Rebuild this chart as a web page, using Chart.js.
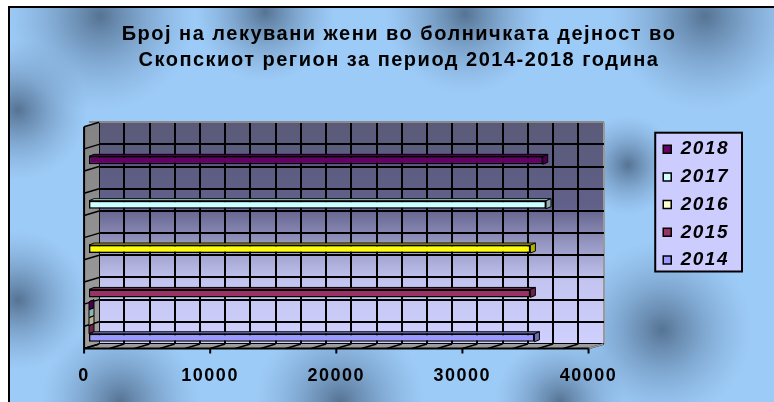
<!DOCTYPE html>
<html>
<head>
<meta charset="utf-8">
<script src="https://cdn.jsdelivr.net/npm/chart.js@4.4.1/dist/chart.umd.min.js"></script>
<style>
html,body{margin:0;padding:0;background:#fff;overflow:hidden}
#wrap{position:relative;width:774px;height:402px}
canvas{display:block}
</style>
</head>
<body>
<div id="wrap"><canvas id="c" width="774" height="402"></canvas></div>
<script>
// ---------- data ----------
const titleLines = ['Број на лекувани жени во болничката дејност во', 'Скопскиот регион за период 2014-2018 година'];
const categories = ['I', 'II', 'III', 'IV', 'V'];
const seriesNames = ['2018', '2017', '2016', '2015', '2014'];
const values2018 = [0, null, null, null, null];
const values2017 = [0, null, null, null, null];
const values2016 = [0, null, null, null, null];
const values2015 = [0, null, null, null, null];
const values2014 = [35320, 35000, 35000, 36240, 35980];
const xTickValues = [0, 10000, 20000, 30000, 40000];
const xGridValues = [0, 2000, 4000, 6000, 8000, 10000, 12000, 14000, 16000, 18000, 20000, 22000, 24000, 26000, 28000, 30000, 32000, 34000, 36000, 38000, 40000];
const yGridValues = [0, 1, 2, 3, 4, 5, 6, 7, 8, 9, 10];

// ---------- styles ----------
const FONT = "'Liberation Sans', Arial, sans-serif";
const seriesColors = ['#660066', '#CCFFFF', '#FFFFCC', '#993366', '#9999FF'];
const pointColors2014 = ['#9999FF', '#993366', '#FFFF00', '#CCFFFF', '#660066'];
const DEPTH_X = 15, DEPTH_Y = 4.5;
const BAR_DX = 5, BAR_DY = 2;
const bgSpots = [[100,16,95],[265,12,70],[465,14,80],[705,16,95],[18,110,70],[18,300,70],[120,402,80],[340,402,85],[560,402,65],[662,330,90],[628,165,50]];

function shade(hex, f) {
  const h = hex.replace('#','');
  const r = parseInt(h.substr(0,2),16), g = parseInt(h.substr(2,2),16), b = parseInt(h.substr(4,2),16);
  return 'rgb(' + Math.round(r*f) + ',' + Math.round(g*f) + ',' + Math.round(b*f) + ')';
}

const decor = {
  id: 'decor',
  afterInit(chart) { chart.ctx.letterSpacing = '1.5px'; },
  beforeDraw(chart) {
    const ctx = chart.ctx, W = chart.width, H = chart.height;
    ctx.save();
    ctx.fillStyle = '#ffffff'; ctx.fillRect(0, 0, W, H);
    ctx.beginPath(); ctx.rect(9, 7, W - 9, H - 7); ctx.clip();
    ctx.fillStyle = '#9dcbf7'; ctx.fillRect(9, 7, W - 9, H - 7);
    for (const [cx, cy, r] of bgSpots) {
      const g = ctx.createRadialGradient(cx, cy, 0, cx, cy, r);
      g.addColorStop(0, 'rgba(62,86,114,0.75)');
      g.addColorStop(0.5, 'rgba(80,110,145,0.35)');
      g.addColorStop(1, 'rgba(100,140,180,0)');
      ctx.fillStyle = g; ctx.fillRect(cx - r, cy - r, 2 * r, 2 * r);
    }
    ctx.restore();
    ctx.fillStyle = '#000';
    ctx.fillRect(8, 6, 2, H - 6);
    ctx.fillRect(8, 6, W - 8, 2);

    // back wall
    const a = chart.chartArea, xg = chart.scales.x2;
    const L = xg.getPixelForValue(0), R = xg.getPixelForValue(40000);
    const g2 = ctx.createLinearGradient(0, a.top, 0, a.bottom);
    g2.addColorStop(0, '#5a5a78');
    g2.addColorStop(0.38, '#60608a');
    g2.addColorStop(0.56, '#9a9ac6');
    g2.addColorStop(0.72, '#c4c4f0');
    g2.addColorStop(1, '#d0d0ff');
    ctx.fillStyle = g2;
    ctx.fillRect(L, a.top, R - L, a.bottom - a.top);

    // legend box
    const lg = chart.legend;
    if (lg && lg.legendHitBoxes && lg.legendHitBoxes.length) {
      let l = 1e9, t = 1e9, r = -1e9, b = -1e9;
      lg.legendHitBoxes.forEach(hb => {
        l = Math.min(l, hb.left); t = Math.min(t, hb.top);
        r = Math.max(r, hb.left + hb.width); b = Math.max(b, hb.top + hb.height);
      });
      ctx.fillStyle = '#ccccff';
      ctx.fillRect(l - 8, t - 7, (r - l) + 21, (b - t) + 9);
      ctx.strokeStyle = '#000'; ctx.lineWidth = 2;
      ctx.strokeRect(l - 8, t - 7, (r - l) + 21, (b - t) + 9);
    }
  },
  beforeDatasetsDraw(chart) {
    const ctx = chart.ctx, xg = chart.scales.x2, yg = chart.scales.y2;
    const L = xg.getPixelForValue(0), R = xg.getPixelForValue(40000);
    const T = yg.getPixelForValue(10), B = yg.getPixelForValue(0);
    ctx.save();
    // left wall
    ctx.beginPath();
    ctx.moveTo(L - DEPTH_X, T + DEPTH_Y); ctx.lineTo(L, T); ctx.lineTo(L, B); ctx.lineTo(L - DEPTH_X, B + DEPTH_Y); ctx.closePath();
    const gw = ctx.createLinearGradient(0, T, 0, B);
    gw.addColorStop(0, '#838383'); gw.addColorStop(1, '#a0a0a0');
    ctx.fillStyle = gw; ctx.fill();
    // floor
    ctx.beginPath();
    ctx.moveTo(L, B); ctx.lineTo(R, B); ctx.lineTo(R - DEPTH_X, B + DEPTH_Y); ctx.lineTo(L - DEPTH_X, B + DEPTH_Y); ctx.closePath();
    ctx.fillStyle = '#9c9c9c'; ctx.fill();
    // wall / floor lines
    ctx.strokeStyle = '#000'; ctx.lineWidth = 1.5;
    yGridValues.forEach(v => {
      const y = yg.getPixelForValue(v);
      ctx.beginPath(); ctx.moveTo(L - DEPTH_X, y + DEPTH_Y); ctx.lineTo(L, y); ctx.stroke();
    });
    xGridValues.forEach(v => {
      const x = xg.getPixelForValue(v);
      ctx.beginPath(); ctx.moveTo(x, B); ctx.lineTo(x - DEPTH_X, B + DEPTH_Y); ctx.stroke();
    });
    ctx.strokeStyle = '#9a9a9a';
    ctx.beginPath(); ctx.moveTo(R, B); ctx.lineTo(R - DEPTH_X, B + DEPTH_Y); ctx.stroke();
    ctx.strokeStyle = '#000'; ctx.lineWidth = 2;
    ctx.beginPath(); ctx.moveTo(L - DEPTH_X, T + DEPTH_Y); ctx.lineTo(L - DEPTH_X, B + DEPTH_Y);
    ctx.lineTo(R - DEPTH_X, B + DEPTH_Y); ctx.stroke();
    // tick marks
    xTickValues.forEach(v => {
      const x = xg.getPixelForValue(v) - DEPTH_X;
      ctx.beginPath(); ctx.moveTo(x, B + DEPTH_Y); ctx.lineTo(x, B + DEPTH_Y + 5); ctx.stroke();
    });
    ctx.restore();
  },
  afterDatasetsDraw(chart) {
    const ctx = chart.ctx;
    ctx.save();
    chart.data.datasets.forEach((ds, i) => {
      const meta = chart.getDatasetMeta(i);
      meta.data.forEach((el, j) => {
        if (ds.data[j] === null || ds.data[j] === undefined) return;
        const p = el.getProps(['x', 'y', 'base', 'height'], true);
        const top = p.y - p.height / 2, bot = p.y + p.height / 2;
        const col = el.options.backgroundColor;
        ctx.lineWidth = 1; ctx.strokeStyle = '#000';
        ctx.beginPath();
        ctx.moveTo(p.base, top); ctx.lineTo(p.base + BAR_DX, top - BAR_DY); ctx.lineTo(p.x + BAR_DX, top - BAR_DY); ctx.lineTo(p.x, top); ctx.closePath();
        ctx.fillStyle = shade(col, 0.85); ctx.fill(); ctx.stroke();
        ctx.beginPath();
        ctx.moveTo(p.x, top); ctx.lineTo(p.x + BAR_DX, top - BAR_DY); ctx.lineTo(p.x + BAR_DX, bot - BAR_DY); ctx.lineTo(p.x, bot); ctx.closePath();
        ctx.fillStyle = shade(col, 0.7); ctx.fill(); ctx.stroke();
      });
    });
    ctx.restore();
  }
};

const seriesData = [values2018, values2017, values2016, values2015, values2014];
const datasets = seriesNames.map((name, i) => ({
  label: name,
  data: seriesData[i],
  backgroundColor: name === '2014' ? pointColors2014 : seriesColors[i],
  borderColor: '#000',
  borderWidth: 1.5,
  borderSkipped: false,
  categoryPercentage: 0.9,
  barPercentage: 1
}));

new Chart(document.getElementById('c'), {
  type: 'bar',
  data: { labels: categories, datasets: datasets },
  plugins: [decor],
  options: {
    indexAxis: 'y',
    responsive: false,
    animation: false,
    events: [],
    layout: { padding: { left: 59, right: 35, top: 0, bottom: 0 } },
    plugins: {
      tooltip: { enabled: false },
      title: {
        display: true, text: titleLines, color: '#000',
        font: { family: FONT, size: 20, weight: 'bold', lineHeight: 1.28 },
        padding: { top: 22, bottom: 49 }
      },
      legend: {
        position: 'right', fullSize: false, align: 'start',
        title: { display: true, text: ' ', font: { size: 1 }, padding: { top: 7.6, bottom: 0 } },
        labels: {
          color: '#000', boxWidth: 8, boxHeight: 8, padding: 8.7,
          font: { family: FONT, size: 19, weight: 'bold', style: 'italic', lineHeight: 1.2 },
          generateLabels(chart) {
            const items = Chart.defaults.plugins.legend.labels.generateLabels(chart);
            items.forEach(it => { if (Array.isArray(it.fillStyle)) it.fillStyle = it.fillStyle[0]; });
            return items;
          }
        }
      }
    },
    scales: {
      x: {
        type: 'linear', position: 'bottom', min: 0, max: 40800,
        afterBuildTicks: s => { s.ticks = xTickValues.map(v => ({ value: v })); },
        ticks: {
          color: '#000', font: { family: FONT, size: 18, weight: 'bold' },
          padding: 21, labelOffset: -5, autoSkip: false, maxRotation: 0,
          callback: v => String(v)
        },
        grid: { display: false, drawTicks: false },
        border: { display: false },
        afterFit: s => { s.height = 58; }
      },
      x2: {
        type: 'linear', position: 'bottom', min: -800, max: 40000, offset: false,
        afterBuildTicks: s => { s.ticks = xGridValues.map(v => ({ value: v })); },
        ticks: { display: false },
        grid: {
          drawTicks: false, lineWidth: 2, offset: false,
          color: c => (c.tick && c.tick.value === 40000) ? '#9a9a9a' : '#000'
        },
        border: { display: false },
        afterFit: s => { s.height = 0; }
      },
      y: {
        type: 'category', position: 'left', reverse: true,
        ticks: { display: false },
        grid: { display: false, drawTicks: false },
        border: { display: false },
        afterFit: s => { s.width = 30; }
      },
      y2: {
        type: 'linear', position: 'right', min: 0, max: 10, offset: false,
        afterBuildTicks: s => { s.ticks = yGridValues.map(v => ({ value: v })); },
        ticks: { display: false },
        grid: {
          drawTicks: false, lineWidth: 2, offset: false,
          color: c => (c.tick && c.tick.value === 10) ? '#8a8a8a' : '#000'
        },
        border: { display: false },
        afterFit: s => { s.width = 51; }
      }
    }
  }
});
</script>
</body>
</html>
